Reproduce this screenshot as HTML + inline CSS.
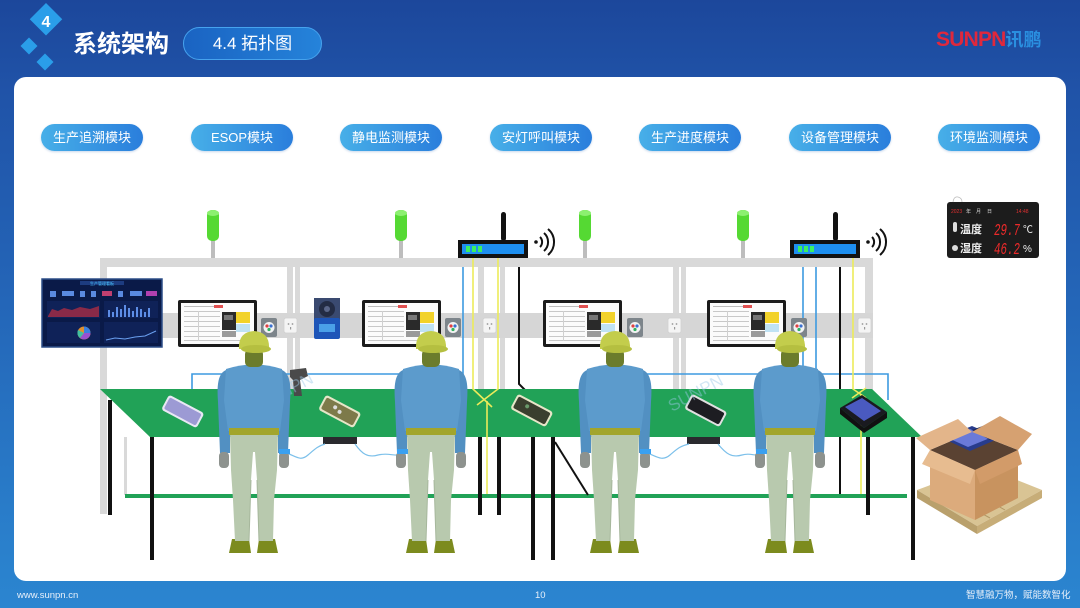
<!DOCTYPE html>
<html><head><meta charset="utf-8">
<style>
html,body{margin:0;padding:0;}
body{width:1080px;height:608px;overflow:hidden;position:relative;font-family:"Liberation Sans","Noto Sans CJK SC",sans-serif;background:linear-gradient(180deg,#1c479b 0%,#2053a8 15%,#2466b8 50%,#2a80cc 90%,#2b85d0 100%);}
.panel{position:absolute;left:14px;top:77px;width:1052px;height:504px;background:#fff;border-radius:12px;}
.title{position:absolute;left:73px;top:30px;color:#fff;font-size:24px;font-weight:bold;line-height:30px;letter-spacing:0px;}
.tag{position:absolute;left:183px;top:27px;width:137px;height:31px;border-radius:17px;background:linear-gradient(90deg,#1a63c2,#2583da);border:1.5px solid #46a3ee;color:#fff;font-size:17px;line-height:31px;text-align:center;}
.logo{position:absolute;left:936px;top:28px;font-size:21px;font-weight:bold;line-height:24px;white-space:nowrap;}
.logo .a{color:#e0283c;letter-spacing:-0.8px;}
.logo .b{color:#2a8fe0;font-size:18px;}
.pill{position:absolute;top:124px;width:102px;height:27px;border-radius:14px;background:linear-gradient(90deg,#47afe8,#2a7edc);color:#fff;font-size:13px;line-height:27px;text-align:center;box-shadow:0 1px 2px rgba(40,100,180,.25);}
.foot{position:absolute;top:590px;color:#e8f0fa;font-size:9.5px;line-height:12px;}
svg{position:absolute;left:0;top:0;}
</style></head><body>
<div class="panel"></div>
<svg width="1080" height="608" viewBox="0 0 1080 608">
 <rect x="34" y="8" width="23" height="23" fill="#2a9ee9" transform="rotate(45 46 20)"/>
 <text x="46" y="27" font-size="16" font-weight="bold" fill="#fff" text-anchor="middle" font-family="Liberation Sans, sans-serif">4</text>
 <rect x="23" y="40" width="12" height="12" fill="#2a9ee9" transform="rotate(45 29 46)"/>
 <rect x="39" y="56" width="12" height="12" fill="#2a9ee9" transform="rotate(45 45 62)"/>
</svg>
<div class="title">系统架构</div>
<div class="tag">4.4 拓扑图</div>
<div class="logo"><span class="a">SUNPN</span><span class="b">讯鹏</span></div>

<div class="pill" style="left:41px">生产追溯模块</div>
<div class="pill" style="left:191px">ESOP模块</div>
<div class="pill" style="left:340px">静电监测模块</div>
<div class="pill" style="left:490px">安灯呼叫模块</div>
<div class="pill" style="left:639px">生产进度模块</div>
<div class="pill" style="left:789px">设备管理模块</div>
<div class="pill" style="left:938px">环境监测模块</div>

<svg width="1080" height="608" viewBox="0 0 1080 608">
<defs>
 <g id="scr">
  <rect x="0" y="0" width="79" height="47" rx="2" fill="#1b1b1b"/>
  <rect x="3" y="3" width="73" height="41" fill="#fbfbfb"/>
  <rect x="6" y="6" width="30" height="1" fill="#bbb"/>
  <rect x="36" y="5" width="9" height="3" fill="#e05050"/>
  <rect x="6" y="11" width="36" height="1" fill="#c8c8c8"/>
  <rect x="6" y="16" width="36" height="1" fill="#c8c8c8"/>
  <rect x="6" y="21" width="36" height="1" fill="#c8c8c8"/>
  <rect x="6" y="26" width="36" height="1" fill="#c8c8c8"/>
  <rect x="6" y="31" width="36" height="1" fill="#c8c8c8"/>
  <rect x="6" y="36" width="36" height="1" fill="#c8c8c8"/>
  <rect x="6" y="40" width="66" height="1" fill="#c8c8c8"/>
  <rect x="20" y="11" width="1" height="30" fill="#d0d0d0"/>
  <rect x="44" y="12" width="14" height="18" fill="#2a2a2a"/>
  <rect x="46" y="15" width="9" height="5" fill="#777"/>
  <rect x="58" y="12" width="14" height="11" fill="#f2d22a"/>
  <rect x="58" y="24" width="14" height="8" fill="#bfe2f4"/>
  <rect x="44" y="31" width="14" height="6" fill="#9a9a9a"/>
 </g>
 <g id="sb">
  <rect x="0" y="0" width="16" height="19" rx="2" fill="#7d858b"/>
  <circle cx="8" cy="9.5" r="5.5" fill="#f3f3f3"/>
  <circle cx="6" cy="8" r="1.6" fill="#e04040"/>
  <circle cx="10" cy="8" r="1.6" fill="#3a70d0"/>
  <circle cx="8" cy="11.5" r="1.6" fill="#30b060"/>
 </g>
 <g id="ol">
  <rect x="0" y="0" width="13" height="15" rx="2" fill="#f4f4f4" stroke="#d0d0d0" stroke-width="0.8"/>
  <circle cx="4.5" cy="6" r="0.9" fill="#999"/><circle cx="8.5" cy="6" r="0.9" fill="#999"/><rect x="6" y="9" width="1.2" height="2.5" fill="#999"/>
 </g>
 <g id="tl">
  <rect x="-2" y="240" width="4" height="18" fill="#bdbdbd"/>
  <rect x="-6" y="210" width="12" height="31" rx="5" fill="#55d933"/>
  <ellipse cx="0" cy="213" rx="6" ry="3" fill="#8cf070"/>
 </g>
 <g id="rt">
  <rect x="0" y="0" width="70" height="18" fill="#121212"/>
  <rect x="4" y="4" width="62" height="10" fill="#1e8ff0"/>
  <rect x="8" y="6" width="4" height="6" fill="#3cf060"/>
  <rect x="14" y="6" width="4" height="6" fill="#3cf060"/>
  <rect x="20" y="6" width="4" height="6" fill="#3cf060"/>
  <rect x="43" y="-28" width="5" height="29" rx="2.5" fill="#121212"/>
  <circle cx="78" cy="2" r="1.8" fill="#121212"/>
  <path d="M82,-3 A7,7 0 0 1 82,7" fill="none" stroke="#121212" stroke-width="2"/>
  <path d="M86,-7 A12,12 0 0 1 86,11" fill="none" stroke="#121212" stroke-width="2"/>
  <path d="M90,-11 A17,17 0 0 1 90,15" fill="none" stroke="#121212" stroke-width="2"/>
 </g>
 <g id="wk">
  <path d="M-22,539 L-5,539 L-3,553 L-25,553 Z" fill="#7c8b1e"/>
  <path d="M5,539 L21,539 L24,553 L3,553 Z" fill="#7c8b1e"/>
  <path d="M-24,433 L24,433 L23,470 L20,500 L19,541 L5,541 L3,480 L1,452 L-1,452 L-3,480 L-5,541 L-19,541 L-21,500 L-23,470 Z" fill="#b8c9ae"/>
  <path d="M-3,480 L-5,541 M3,480 L5,541" stroke="#a6b79c" stroke-width="1"/>
  <path d="M-28,370 C-37,374 -37,388 -36,402 L-34,453 L-24,453 L-24,402 Z" fill="#5290c2"/>
  <path d="M28,370 C37,374 37,388 36,402 L34,453 L24,453 L24,402 Z" fill="#5290c2"/>
  <path d="M-28,369 Q0,360 28,369 L30,400 L26,431 L-26,431 L-30,400 Z" fill="#5c9bcc"/>
  <rect x="-25" y="428" width="50" height="7" fill="#a2a52c"/>
  <rect x="-35" y="452" width="10" height="16" rx="4" fill="#8d928e"/>
  <rect x="25" y="452" width="10" height="16" rx="4" fill="#8d928e"/>
  <rect x="-9" y="349" width="18" height="18" rx="5" fill="#6b7c2c"/>
  <path d="M-15,349 Q-16,332 0,331 Q16,332 15,349 Z" fill="#c3cd4c"/>
  <ellipse cx="2" cy="349" rx="15" ry="4" fill="#b5bf40"/>
 </g>
</defs>

<g fill="#d9d9d9">
 <rect x="100" y="258" width="773" height="9"/>
 <rect x="100" y="258" width="7" height="256"/>
 <rect x="287" y="258" width="6" height="132"/>
 <rect x="295" y="258" width="5" height="132"/>
 <rect x="478" y="258" width="6" height="132"/>
 <rect x="500" y="258" width="5" height="132"/>
 <rect x="673" y="258" width="6" height="132"/>
 <rect x="681" y="258" width="5" height="132"/>
 <rect x="865" y="258" width="8" height="132"/>
 <rect x="124" y="437" width="3" height="58"/>
</g>
<rect x="100" y="313" width="773" height="25" fill="#d6d6d6"/>

<use href="#tl" x="213"/><use href="#tl" x="401"/><use href="#tl" x="585"/><use href="#tl" x="743"/>

<g fill="none" stroke-width="1.6">
 <path d="M192,390 L192,374 L463,374 L463,267" stroke="#3d9ae0"/>
 <path d="M637,374 L803,374 L803,267" stroke="#3d9ae0"/>
 <path d="M816,267 L816,374 L888,374 L888,400" stroke="#3d9ae0"/>
 <path d="M519,267 L519,384 L525,390" stroke="#111" stroke-width="2"/>
 <path d="M840,267 L840,495" stroke="#111" stroke-width="2"/>
</g>

<use href="#rt" x="458" y="240"/>
<use href="#rt" x="790" y="240"/>

<use href="#scr" x="178" y="300"/>
<use href="#scr" x="362" y="300"/>
<use href="#scr" x="543" y="300"/>
<use href="#scr" x="707" y="300"/>
<use href="#sb" x="261" y="318"/><use href="#sb" x="445" y="318"/><use href="#sb" x="627" y="318"/><use href="#sb" x="791" y="318"/>
<use href="#ol" x="284" y="318"/><use href="#ol" x="483" y="318"/><use href="#ol" x="668" y="318"/><use href="#ol" x="858" y="318"/>

<rect x="314" y="298" width="26" height="22" fill="#3a4a70"/>
<circle cx="327" cy="309" r="8" fill="#232c44"/>
<circle cx="327" cy="309" r="3" fill="#5a6688"/>
<rect x="314" y="318" width="26" height="21" rx="2" fill="#1d55b8"/>
<rect x="319" y="324" width="16" height="8" fill="#4aa0e8"/>

<rect x="42" y="279" width="120" height="68" fill="#0a1a48" stroke="#2d4e88" stroke-width="1.5"/>
<rect x="80" y="281" width="44" height="4" fill="#1d3c80"/>
<text x="102" y="285" font-size="4" fill="#49c8ff" text-anchor="middle" font-family="Liberation Sans, Noto Sans CJK SC, sans-serif">生产管理看板</text>
<g fill="#5a8ae0">
 <rect x="50" y="291" width="6" height="6"/><rect x="62" y="291" width="12" height="5"/><rect x="80" y="291" width="5" height="6"/>
 <rect x="91" y="291" width="5" height="6"/><rect x="102" y="291" width="10" height="5" fill="#c04070"/><rect x="118" y="291" width="5" height="6"/>
 <rect x="130" y="291" width="12" height="5"/><rect x="146" y="291" width="11" height="5" fill="#b040b0"/>
</g>
<rect x="47" y="301" width="53" height="17" fill="#0f2258"/>
<path d="M48,316 L52,309 L58,311 L64,308 L72,310 L80,307 L90,309 L99,306 L99,317 L48,317 Z" fill="#8a2a48"/>
<rect x="104" y="301" width="54" height="17" fill="#0f2258"/>
<g fill="#5d8de6"><rect x="108" y="310" width="2" height="7"/><rect x="112" y="312" width="2" height="5"/><rect x="116" y="307" width="2" height="10"/><rect x="120" y="309" width="2" height="8"/><rect x="124" y="305" width="2" height="12"/><rect x="128" y="308" width="2" height="9"/><rect x="132" y="311" width="2" height="6"/><rect x="136" y="307" width="2" height="10"/><rect x="140" y="309" width="2" height="8"/><rect x="144" y="312" width="2" height="5"/><rect x="148" y="308" width="2" height="9"/></g>
<rect x="47" y="322" width="53" height="21" fill="#0f2258"/>
<circle cx="84" cy="333" r="6.5" fill="#e09030"/>
<path d="M84,333 L84,326.5 A6.5,6.5 0 0 1 90.5,333 Z" fill="#3a80e0"/>
<path d="M84,333 L90.5,333 A6.5,6.5 0 0 1 80,338 Z" fill="#9a50d0"/>
<path d="M84,333 L80,338 A6.5,6.5 0 0 1 78,330 Z" fill="#40c0a0"/>
<rect x="104" y="322" width="54" height="21" fill="#0f2258"/>
<path d="M106,340 L115,338 L125,339 L135,337 L145,336 L156,331" fill="none" stroke="#6aa0f0" stroke-width="1"/>

<rect x="947" y="202" width="92" height="56" rx="3" fill="#1c1c1c"/>
<path d="M953,202 Q954,196 958,197 Q962,198 962,202" fill="none" stroke="#bbb" stroke-width="0.8"/>
<text x="951" y="213" font-size="5" fill="#e03030" font-family="Liberation Sans, sans-serif">2023</text>
<text x="966" y="213" font-size="5" fill="#ddd" font-family="Liberation Sans, Noto Sans CJK SC, sans-serif">年</text>
<text x="976" y="213" font-size="5" fill="#ddd" font-family="Liberation Sans, Noto Sans CJK SC, sans-serif">月</text>
<text x="987" y="213" font-size="5" fill="#ddd" font-family="Liberation Sans, Noto Sans CJK SC, sans-serif">日</text>
<text x="1016" y="213" font-size="5" fill="#e03030" font-family="Liberation Sans, sans-serif">14:48</text>
<rect x="953" y="222" width="4" height="10" rx="2" fill="#ddd"/>
<text x="960" y="233" font-size="11" font-weight="bold" fill="#eee" font-family="Liberation Sans, Noto Sans CJK SC, sans-serif">温度</text>
<text x="994" y="235" font-size="17" font-style="italic" fill="#ec2a2a" font-family="Liberation Mono, monospace" textLength="26" lengthAdjust="spacingAndGlyphs">29.7</text>
<text x="1023" y="233" font-size="10" fill="#eee" font-family="Liberation Sans, Noto Sans CJK SC, sans-serif">℃</text>
<circle cx="955" cy="248" r="3" fill="#ddd"/>
<text x="960" y="252" font-size="11" font-weight="bold" fill="#eee" font-family="Liberation Sans, Noto Sans CJK SC, sans-serif">湿度</text>
<text x="994" y="254" font-size="17" font-style="italic" fill="#ec2a2a" font-family="Liberation Mono, monospace" textLength="26" lengthAdjust="spacingAndGlyphs">46.2</text>
<text x="1023" y="252" font-size="10" fill="#eee" font-family="Liberation Sans, sans-serif">%</text>

<polygon points="100,389 872,389 922,437 150,437" fill="#21a257"/>
<rect x="125" y="494" width="782" height="4" fill="#21a257"/>
<g fill="#111">
 <rect x="108" y="400" width="4" height="115"/>
 <rect x="150" y="437" width="4" height="123"/>
 <rect x="478" y="437" width="4" height="78"/>
 <rect x="497" y="437" width="4" height="78"/>
 <rect x="531" y="437" width="4" height="123"/>
 <rect x="551" y="437" width="4" height="123"/>
 <rect x="866" y="437" width="4" height="78"/>
 <rect x="911" y="437" width="4" height="123"/>
</g>
<path d="M555,442 L588,495" stroke="#111" stroke-width="2"/>
<g stroke="#eceb5a" stroke-width="1.6" fill="none">
 <path d="M473,258 L473,389 L492,407"/>
 <path d="M498,258 L498,389 L477,405"/>
 <path d="M487,401 L487,494"/>
 <path d="M853,258 L853,389 L866,398"/>
 <path d="M866,388 L852,398"/>
 <path d="M861,394 L861,494"/>
</g>

<g transform="rotate(28 183 411)"><rect x="163" y="403" width="40" height="17" rx="3" fill="#e8e8f4"/><rect x="165" y="405" width="36" height="13" rx="2" fill="#9c9ad4"/></g>
<g transform="rotate(28 340 411)"><rect x="320" y="403" width="40" height="17" rx="3" fill="#e6e6c8"/><rect x="322" y="405" width="36" height="13" rx="2" fill="#7d7a4a"/><circle cx="334" cy="410" r="2" fill="#ddd"/><circle cx="340" cy="412" r="2" fill="#ddd"/></g>
<g transform="rotate(28 532 410)"><rect x="512" y="402" width="40" height="17" rx="3" fill="#e6e6c8"/><rect x="514" y="404" width="36" height="13" rx="2" fill="#3a3f2e"/><circle cx="526" cy="409" r="2" fill="#6a9a6a"/></g>
<g transform="rotate(28 706 410)"><rect x="686" y="402" width="40" height="17" rx="3" fill="#e0e0e0"/><rect x="688" y="404" width="36" height="13" rx="2" fill="#1d1d22"/></g>
<polygon points="840,408 862,395 887,412 864,428" fill="#1a1a20"/>
<polygon points="845,407 862,398 881,411 864,421" fill="#4a5ac0"/>
<polygon points="864,428 887,412 887,418 864,433 840,414 840,408" fill="#111"/>
<path d="M290,370 L306,368 L308,376 L300,380 L302,396 L294,396 L293,380 L290,377 Z" fill="#4a4a4a"/>
<text x="262" y="410" font-size="17" fill="#9cc8e8" opacity="0.45" transform="rotate(-28 262 410)" font-family="Liberation Sans, sans-serif">SUNPN</text>
<text x="672" y="412" font-size="17" fill="#9cc8e8" opacity="0.45" transform="rotate(-28 672 412)" font-family="Liberation Sans, sans-serif">SUNPN</text>

<rect x="323" y="437" width="34" height="7" fill="#2a2a2e"/>
<rect x="687" y="437" width="33" height="7" fill="#2a2a2e"/>
<g fill="none" stroke="#7cc0ea" stroke-width="1.2">
 <path d="M284,452 C296,456 300,462 308,455 C315,449 318,446 325,444"/>
 <path d="M355,444 C362,454 368,458 378,455 C390,452 396,458 402,453"/>
 <path d="M645,452 C656,456 662,462 670,455 C677,449 680,446 689,444"/>
 <path d="M718,444 C726,454 732,458 742,455 C752,452 756,458 762,453"/>
</g>

<use href="#wk" x="254"/>
<use href="#wk" x="431"/>
<use href="#wk" x="615"/>
<use href="#wk" x="790"/>
<rect x="279" y="449" width="11" height="5" fill="#3aa0f0"/>
<rect x="397" y="449" width="11" height="5" fill="#3aa0f0"/>
<rect x="640" y="449" width="11" height="5" fill="#3aa0f0"/>
<rect x="756" y="449" width="11" height="5" fill="#3aa0f0"/>

<polygon points="917,490 982,466 1042,490 977,526" fill="#d9c494"/>
<polygon points="917,490 977,526 977,534 917,498" fill="#b9a06c"/>
<polygon points="977,526 1042,490 1042,498 977,534" fill="#c7ad78"/>
<g stroke="#b29866" stroke-width="1"><path d="M930,485 L990,518"/><path d="M948,478 L1005,510"/><path d="M990,470 L935,497"/><path d="M1010,478 L955,510"/></g>
<polygon points="930,450 975,470 975,520 930,500" fill="#dcab7c"/>
<polygon points="975,470 1018,450 1018,498 975,520" fill="#c8935f"/>
<polygon points="930,450 972,432 1018,450 975,470" fill="#5a4232"/>
<polygon points="942,438 972,426 1000,438 970,451" fill="#283c8c"/>
<polygon points="948,438 970,429 990,438 968,447" fill="#6a7ad8"/>
<polygon points="972,430 996,421 1012,432 990,440" fill="#1e2a5a"/>
<polygon points="930,450 916,438 958,419 972,432" fill="#e3b58a"/>
<polygon points="1018,450 1032,434 1000,416 972,432" fill="#d6a171"/>
<polygon points="930,450 975,470 970,484 922,464" fill="#e7bc90"/>
<polygon points="975,470 1018,450 1022,464 980,484" fill="#d29b69"/>
</svg>

<div class="foot" style="left:17px">www.sunpn.cn</div>
<div class="foot" style="left:535px">10</div>
<div class="foot" style="left:966px;">智慧融万物，赋能数智化</div>
</body></html>
